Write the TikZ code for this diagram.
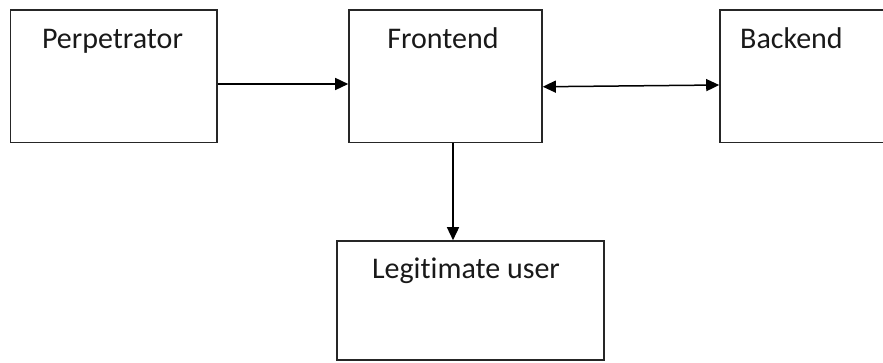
\documentclass[tikz,border=0pt]{standalone}
\usepackage{fontspec}
\setmainfont{Carlito}[Ligatures={NoCommon}]
\usetikzlibrary{arrows.meta}
\begin{document}
\begin{tikzpicture}[x=1pt,y=-1pt,
  box/.style={draw=black!85, line width=1.6pt, inner sep=0pt, fill=none},
  lbl/.style={font=\fontsize{30}{34}\selectfont, text=black!90, inner sep=0pt},
  arr/.style={line width=1.5pt, draw=black, -{Triangle[length=13pt,width=12pt]}},
  darr/.style={line width=1.5pt, draw=black, {Triangle[length=13pt,width=12pt]}-{Triangle[length=13pt,width=12pt]}}]
\useasboundingbox (0,0) rectangle (883,362);
\node[box, minimum width=206.5pt, minimum height=132.5pt] (perp) at (113.75,76.25) {};
\node[box, minimum width=193pt, minimum height=132.5pt] (front) at (445.5,76.25) {};
\node[box, minimum width=200pt, minimum height=132.5pt] (back) at (820,76.25) {};
\node[box, minimum width=267pt, minimum height=119pt] (legit) at (470.5,300.5) {};
\node[lbl, anchor=base] (tperp) at (112.5,48) {Perpetrator};
\node[lbl, anchor=base] (tfront) at (443,48) {Frontend};
\node[lbl, anchor=base west] (tback) at (740,48) {Backend};
\node[lbl, anchor=base] (tlegit) at (466,278) {Legitimate user};
\draw[arr] ([yshift=-7.75pt]perp.east) -- ([yshift=-7.75pt]front.west);
\draw[darr] ([yshift=-10.5pt]front.east) -- ([yshift=-8.75pt]back.west);
\draw[arr] ([xshift=7.5pt]front.south) -- ([xshift=-17.5pt]legit.north);
\end{tikzpicture}
\end{document}
